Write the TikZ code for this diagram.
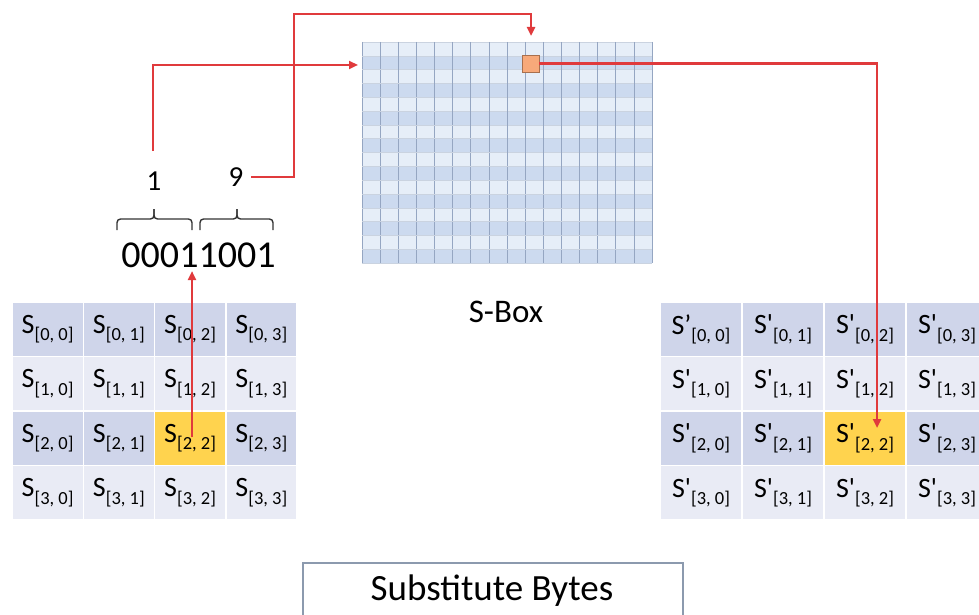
\documentclass[tikz,border=0pt]{standalone}
\usepackage{fontspec}
\setmainfont{Carlito}
\usetikzlibrary{arrows.meta}

\definecolor{linkred}{HTML}{E03A3C}
\definecolor{rowdark}{HTML}{CFD5EA}
\definecolor{rowlight}{HTML}{E9EBF5}
\definecolor{hilite}{HTML}{FFD34E}
\definecolor{sboxlight}{HTML}{E6EEF8}
\definecolor{sboxdark}{HTML}{CCDAEF}
\definecolor{sboxline}{HTML}{95A6C2}
\definecolor{pickfill}{HTML}{F7A97A}
\definecolor{pickedge}{HTML}{A8704E}
\definecolor{framegray}{HTML}{8C9AAE}

% font size in pt (one pt per pixel of the page)
\newcommand\fs[1]{\fontsize{#1}{#1}\selectfont}
% lowered index after a state letter
\newcommand\idx[1]{\raisebox{-0.27em}{\fs{18.5}#1}}

\begin{document}
\begin{tikzpicture}[x=1pt,y=-1pt,
  cell/.style={draw=white,line width=1.5pt,minimum height=54.5pt,inner sep=0pt,font=\fs{28}},
  link/.style={draw=linkred,line width=2.3pt,-{Triangle[length=9pt,width=8pt]}},
  bracket/.style={draw=black!80,line width=1.4pt,rounded corners=3.5pt},
  label/.style={anchor=base,inner sep=0pt}]

\useasboundingbox (0,0) rectangle (979,615);

% ---- state matrices S and S'
\foreach \i in {0,...,3}{
  \foreach \j in {0,...,3}{
    \pgfmathtruncatemacro\odd{mod(\i,2)}
    \ifnum\odd=1 \def\bg{rowlight}\else\def\bg{rowdark}\fi
    \ifnum\i=2 \ifnum\j=2 \def\bg{hilite}\fi\fi
    \def\pr{\textquotesingle}
    \ifnum\i=0 \ifnum\j=0 \def\pr{’}\fi\fi
    \node[cell,fill=\bg,minimum width=71.25pt] (s\i\j)
      at ({12+71.25*(\j+0.5)},{302+54.5*(\i+0.5)}) {S\idx{[\i, \j]}};
    \node[cell,fill=\bg,minimum width=82pt] (t\i\j)
      at ({660+82*(\j+0.5)},{302+54.5*(\i+0.5)}) {S\pr\idx{[\i, \j]}};
  }
}

% ---- S-Box lookup table, 16 x 16
\node[inner sep=0pt,minimum width=290pt,minimum height=221pt] (sbox) at (507,152.5) {};
\foreach \r in {0,...,15}{
  \pgfmathtruncatemacro\odd{mod(\r,2)}
  \ifnum\odd=1 \def\bg{sboxdark}\else\def\bg{sboxlight}\fi
  \fill[\bg] (362,{42+13.8125*\r}) rectangle (652,{42+13.8125*(\r+1)});
}
\foreach \k in {0,...,16}{
  \draw[sboxline!50,line width=0.5pt] (362,{42+13.8125*\k}) -- (652,{42+13.8125*\k});
  \draw[sboxline,line width=0.7pt] ({362+18.125*\k},42) -- ({362+18.125*\k},263);
}
\node[draw=pickedge,fill=pickfill,line width=0.9pt,minimum size=17pt,inner sep=0pt] (pick) at (530.5,63.5) {};

\node[label,font=\fs{33}] (sboxname) at (506,322) {S-Box};

% ---- byte split into nibbles
\node[label,font=\fs{38}] (bits) at (198.5,267) {00011001};
\draw[bracket] (117,230) -- (117,219) -- (154,219) -- (154,209);
\draw[bracket] (154,209) -- (154,219) -- (192,219) -- (192,230);
\draw[bracket] (200,230) -- (200,219) -- (237,219) -- (237,209);
\draw[bracket] (237,209) -- (237,219) -- (273,219) -- (273,230);
\node[label,font=\fs{29}] (one) at (154,190) {1};
\node[label,font=\fs{29}] (nine) at (236,186) {9};

% ---- title box
\draw[framegray,line width=1.2pt] (303,563) rectangle (683,640);
\node[label,font=\fs{37}] (title) at (492,600) {Substitute Bytes};

% ---- lookup connectors
\coordinate (oneTail) at (153,151);
\coordinate (rowIn) at (358,65);
\coordinate (nineTail) at (251,177);
\coordinate (colIn) at (531,36);
\coordinate (outIn) at (877,428);
\coordinate (byteTail) at (192,437);
\coordinate (bitsIn) at (192,271);

\draw[link] (byteTail) -- (bitsIn);
\draw[link] (oneTail) |- (rowIn);
\draw[link] (nineTail) -| (294,14) -| (colIn);
\draw[link] (pick.east) -| (outIn);
\end{tikzpicture}
\end{document}
